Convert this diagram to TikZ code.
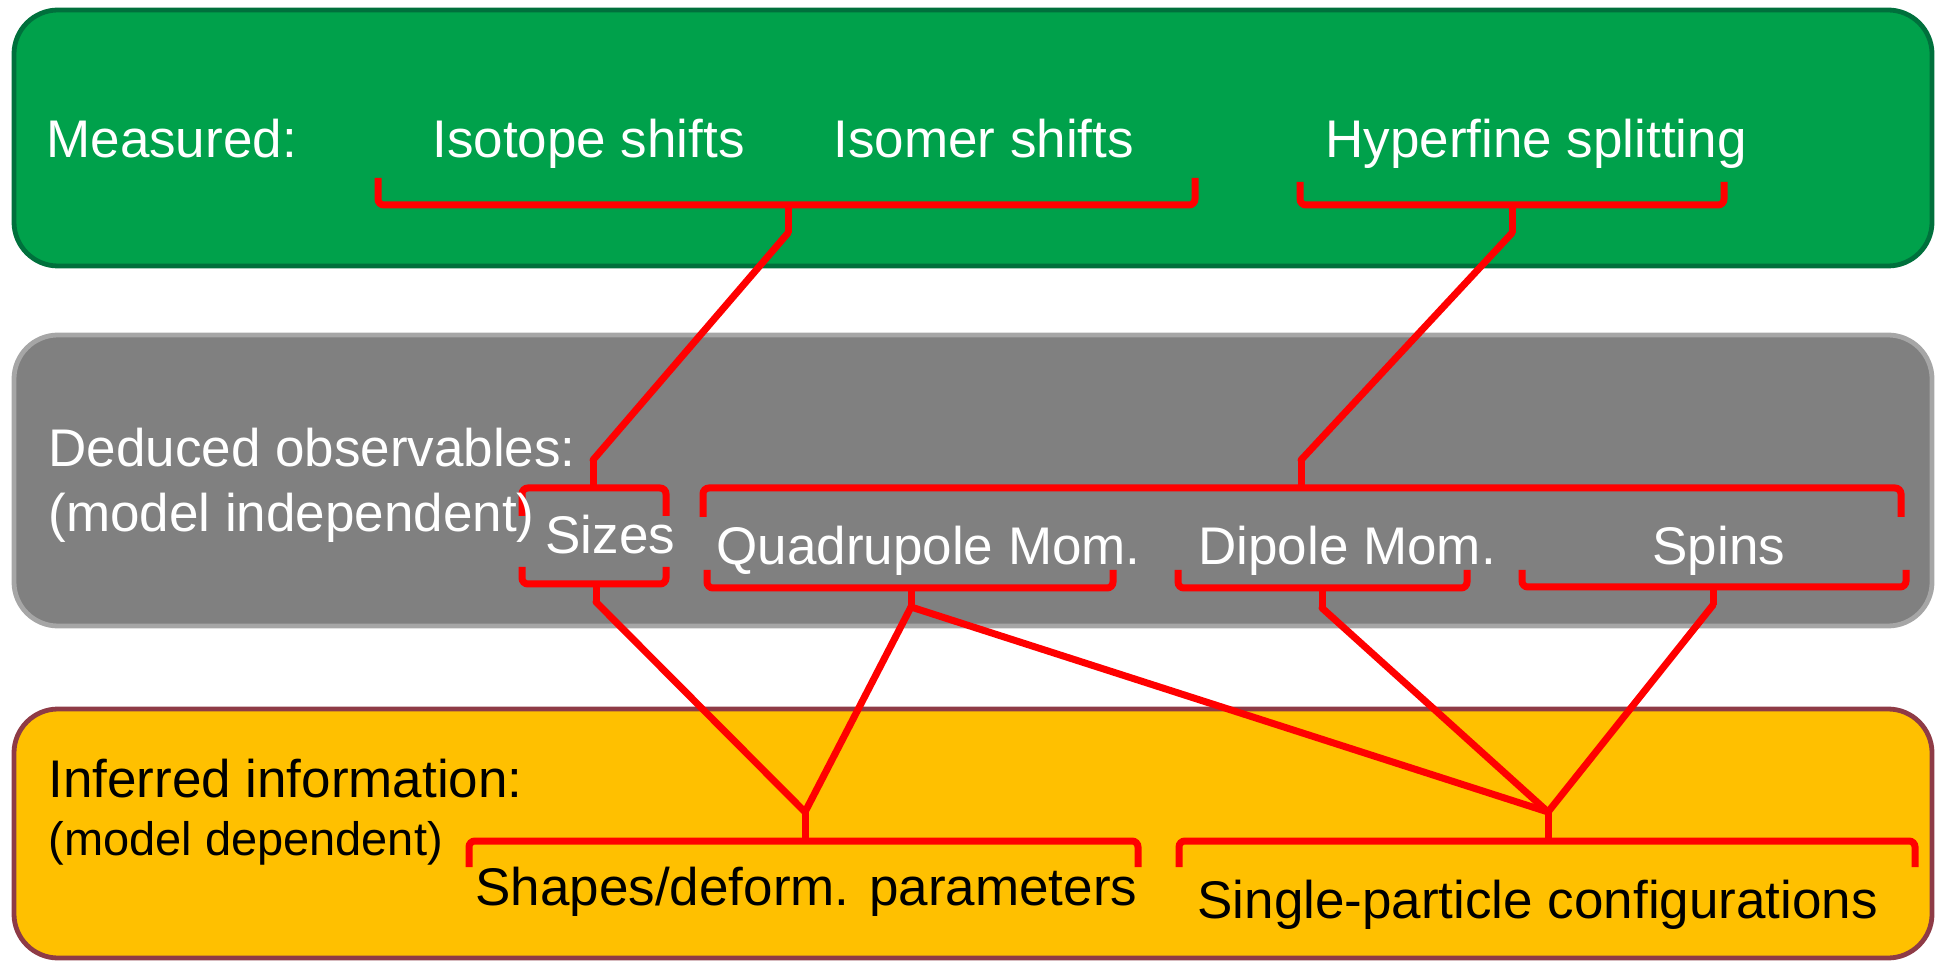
\documentclass[tikz,border=0pt]{standalone}
\usepackage{fontspec}
\setmainfont{Liberation Sans}
\definecolor{mgreen}{HTML}{00A14B}
\definecolor{mgreendark}{HTML}{00703C}
\definecolor{mgray}{HTML}{808080}
\definecolor{mgrayedge}{HTML}{A6A6A6}
\definecolor{myellow}{HTML}{FFC000}
\definecolor{mbrown}{HTML}{8E3B46}
\begin{document}
\begin{tikzpicture}[x=0.5pt,y=-0.5pt,
 box/.style={rounded corners=22pt, line width=2.4pt},
 brace/.style={draw=red, line width=3.5pt, rounded corners=3pt},
 link/.style={draw=red, line width=3.5pt, line join=round, line cap=round},
 lbl/.style={anchor=base west, inner sep=0pt, font=\fontsize{26.5}{30}\selectfont},
 lblsmall/.style={anchor=base west, inner sep=0pt, font=\fontsize{23.5}{27}\selectfont},
]
\useasboundingbox (0,0) rectangle (1936,961);
% layer boxes
\draw[box, fill=mgreen, draw=mgreendark] (14,10) rectangle (1932,266);
\draw[box, fill=mgray, draw=mgrayedge] (14,335) rectangle (1932,626);
\draw[box, fill=myellow, draw=mbrown] (14,709) rectangle (1932,958);

% brace tips
\coordinate (t1) at (788,233);
\coordinate (t2) at (1512,233);
\coordinate (su) at (593,460);
\coordinate (bu) at (1301,460);
\coordinate (sd) at (596,602);
\coordinate (qd) at (911,607);
\coordinate (dd) at (1322,608);
\coordinate (pd) at (1713,605);
\coordinate (yl) at (805,812);
\coordinate (yr) at (1548,812);

% top braces (tip down)
\draw[brace] (378,178) -- (378,205) -- (1195,205) -- (1195,178);
\draw[brace] (788,205) -- (t1);
\draw[brace] (1300,182) -- (1300,205) -- (1724,205) -- (1724,182);
\draw[brace] (1512,205) -- (t2);

% middle upper braces (tip up)
\draw[brace] (522,516) -- (522,488) -- (666,488) -- (666,516);
\draw[brace] (593,488) -- (su);
\draw[brace] (703,517) -- (703,488) -- (1901,488) -- (1901,517);
\draw[brace] (1301,488) -- (bu);

% middle lower braces (tip down)
\draw[brace] (522,567) -- (522,584) -- (666,584) -- (666,567);
\draw[brace] (596,584) -- (sd);
\draw[brace] (707,570) -- (707,588) -- (1113,588) -- (1113,570);
\draw[brace] (911,588) -- (qd);
\draw[brace] (1178,570) -- (1178,588) -- (1467,588) -- (1467,570);
\draw[brace] (1322,588) -- (dd);
\draw[brace] (1522,570) -- (1522,587) -- (1906,587) -- (1906,570);
\draw[brace] (1713,587) -- (pd);

% bottom braces (tip up)
\draw[brace] (469,867) -- (469,841) -- (1138,841) -- (1138,867);
\draw[brace] (805,841) -- (yl);
\draw[brace] (1179,867) -- (1179,841) -- (1915,841) -- (1915,867);
\draw[brace] (1548,841) -- (yr);

% connectors
\draw[link] (t1) -- (su);
\draw[link] (t2) -- (bu);
\draw[link] (sd) -- (yl);
\draw[link] (qd) -- (yl);
\draw[link] (qd) -- (yr);
\draw[link] (dd) -- (yr);
\draw[link] (pd) -- (yr);

% texts
\node[lbl, text=white] (meas) at (46,158) {Measured:};
\node[lbl, text=white] (iso) at (432,158) {Isotope shifts};
\node[lbl, text=white] (isom) at (833,158) {Isomer shifts};
\node[lbl, text=white] (hfs) at (1325,158) {Hyperfine splitting};
\node[lbl, text=white] (ded) at (48,467) {Deduced observables:};
\node[lbl, text=white] (mind) at (48,532) {(model independent)};
\node[lbl, text=white] (siz) at (545,553) {Sizes};
\node[lbl, text=white] (quad) at (716,565) {Quadrupole Mom.};
\node[lbl, text=white] (dip) at (1198,565) {Dipole Mom.};
\node[lbl, text=white] (spin) at (1652,565) {Spins};
\node[lbl] (inf) at (48,797) {Inferred information:};
\node[lblsmall] (mdep) at (48,855) {(model dependent)};
\node[lbl] (shp) at (475,905) {Shapes/deform. parameters};
\node[lbl] (spc) at (1197,918) {Single-particle configurations};
\end{tikzpicture}
\end{document}
